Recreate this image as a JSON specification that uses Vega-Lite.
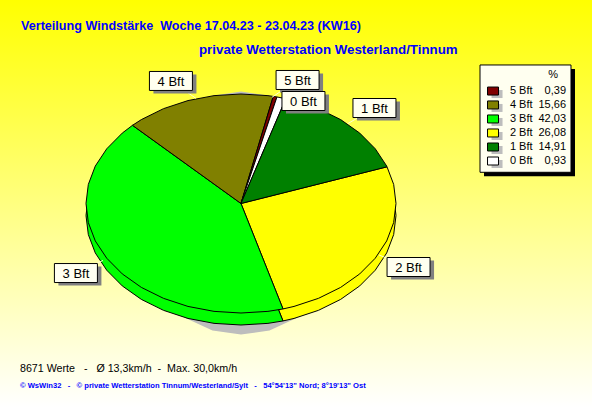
{"$schema":"https://vega.github.io/schema/vega-lite/v6.json","width":592,"height":407,"padding":0,"autosize":{"type":"fit","contains":"padding"},"background":"#ffffff","config":{"view":{"stroke":null}},
"datasets":{
"pie":[
{"s":"2 Bft","o":0,"u":0,"v":0},{"s":"2 Bft","o":1,"u":0.942,"v":0.335},{"s":"2 Bft","o":2,"u":0.985,"v":0.174},{"s":"2 Bft","o":3,"u":1,"v":0},{"s":"2 Bft","o":4,"u":0.985,"v":-0.174},{"s":"2 Bft","o":5,"u":0.94,"v":-0.342},{"s":"2 Bft","o":6,"u":0.866,"v":-0.5},{"s":"2 Bft","o":7,"u":0.766,"v":-0.643},{"s":"2 Bft","o":8,"u":0.643,"v":-0.766},{"s":"2 Bft","o":9,"u":0.5,"v":-0.866},{"s":"2 Bft","o":10,"u":0.342,"v":-0.94},{"s":"2 Bft","o":11,"u":0.271,"v":-0.963},{"s":"2 Bft","o":12,"u":0,"v":0},
{"s":"3 Bft","o":0,"u":0,"v":0},{"s":"3 Bft","o":1,"u":0.271,"v":-0.963},{"s":"3 Bft","o":2,"u":0.174,"v":-0.985},{"s":"3 Bft","o":3,"u":0,"v":-1},{"s":"3 Bft","o":4,"u":-0.174,"v":-0.985},{"s":"3 Bft","o":5,"u":-0.342,"v":-0.94},{"s":"3 Bft","o":6,"u":-0.5,"v":-0.866},{"s":"3 Bft","o":7,"u":-0.643,"v":-0.766},{"s":"3 Bft","o":8,"u":-0.766,"v":-0.643},{"s":"3 Bft","o":9,"u":-0.866,"v":-0.5},{"s":"3 Bft","o":10,"u":-0.94,"v":-0.342},{"s":"3 Bft","o":11,"u":-0.985,"v":-0.174},{"s":"3 Bft","o":12,"u":-1,"v":0},{"s":"3 Bft","o":13,"u":-0.985,"v":0.174},{"s":"3 Bft","o":14,"u":-0.94,"v":0.342},{"s":"3 Bft","o":15,"u":-0.866,"v":0.5},{"s":"3 Bft","o":16,"u":-0.766,"v":0.643},{"s":"3 Bft","o":17,"u":-0.7,"v":0.714},{"s":"3 Bft","o":18,"u":0,"v":0},
{"s":"4 Bft","o":0,"u":0,"v":0},{"s":"4 Bft","o":1,"u":-0.7,"v":0.714},{"s":"4 Bft","o":2,"u":-0.643,"v":0.766},{"s":"4 Bft","o":3,"u":-0.5,"v":0.866},{"s":"4 Bft","o":4,"u":-0.342,"v":0.94},{"s":"4 Bft","o":5,"u":-0.174,"v":0.985},{"s":"4 Bft","o":6,"u":0,"v":1},{"s":"4 Bft","o":7,"u":0.174,"v":0.985},{"s":"4 Bft","o":8,"u":0.208,"v":0.978},{"s":"4 Bft","o":9,"u":0,"v":0},
{"s":"5 Bft","o":0,"u":0,"v":0},{"s":"5 Bft","o":1,"u":0.208,"v":0.978},{"s":"5 Bft","o":2,"u":0.232,"v":0.973},{"s":"5 Bft","o":3,"u":0,"v":0},
{"s":"0 Bft","o":0,"u":0,"v":0},{"s":"0 Bft","o":1,"u":0.232,"v":0.973},{"s":"0 Bft","o":2,"u":0.289,"v":0.957},{"s":"0 Bft","o":3,"u":0,"v":0},
{"s":"1 Bft","o":0,"u":0,"v":0},{"s":"1 Bft","o":1,"u":0.289,"v":0.957},{"s":"1 Bft","o":2,"u":0.342,"v":0.94},{"s":"1 Bft","o":3,"u":0.5,"v":0.866},{"s":"1 Bft","o":4,"u":0.643,"v":0.766},{"s":"1 Bft","o":5,"u":0.766,"v":0.643},{"s":"1 Bft","o":6,"u":0.866,"v":0.5},{"s":"1 Bft","o":7,"u":0.94,"v":0.342},{"s":"1 Bft","o":8,"u":0.942,"v":0.335},{"s":"1 Bft","o":9,"u":0,"v":0}
],
"shade":[
{"o":0,"u":0.71,"v":-0.087},{"o":1,"u":0.686,"v":0.2},{"o":2,"u":0.615,"v":0.468},{"o":3,"u":0.502,"v":0.698},{"o":4,"u":0.355,"v":0.874},{"o":5,"u":0.184,"v":0.985},{"o":6,"u":0,"v":1.023},{"o":7,"u":-0.184,"v":0.985},{"o":8,"u":-0.355,"v":0.874},{"o":9,"u":-0.502,"v":0.698},{"o":10,"u":-0.615,"v":0.468},{"o":11,"u":-0.686,"v":0.2},{"o":12,"u":-0.71,"v":-0.087},{"o":13,"u":-0.686,"v":-0.374},{"o":14,"u":-0.615,"v":-0.642},{"o":15,"u":-0.502,"v":-0.872},{"o":16,"u":-0.355,"v":-1.048},{"o":17,"u":-0.184,"v":-1.159},{"o":18,"u":0,"v":-1.197},{"o":19,"u":0.184,"v":-1.159},{"o":20,"u":0.355,"v":-1.048},{"o":21,"u":0.502,"v":-0.872},{"o":22,"u":0.615,"v":-0.642},{"o":23,"u":0.686,"v":-0.374}
],
"labels":[
{"s":"4 Bft","u":-0.452,"v":1.119,"ru":-0.29,"rv":0.96},
{"s":"5 Bft","u":0.365,"v":1.128,"ru":0.2,"rv":0.97},
{"s":"0 Bft","u":0.403,"v":0.936,"ru":0.26,"rv":0.95},
{"s":"1 Bft","u":0.861,"v":0.872,"ru":0.69,"rv":0.73},
{"s":"2 Bft","u":1.081,"v":-0.58,"ru":0.89,"rv":-0.47},
{"s":"3 Bft","u":-1.065,"v":-0.635,"ru":-0.89,"rv":-0.52}
],
"legend":[
{"s":"5 Bft","pct":"0,39","v":1.027,"u":1.735,"su":1.626,"pu":2.097},
{"s":"4 Bft","pct":"15,66","v":0.9,"u":1.735,"su":1.626,"pu":2.097},
{"s":"3 Bft","pct":"42,03","v":0.772,"u":1.735,"su":1.626,"pu":2.097},
{"s":"2 Bft","pct":"26,08","v":0.644,"u":1.735,"su":1.626,"pu":2.097},
{"s":"1 Bft","pct":"14,91","v":0.516,"u":1.735,"su":1.626,"pu":2.097},
{"s":"0 Bft","pct":"0,93","v":0.388,"u":1.735,"su":1.626,"pu":2.097}
]
},
"encoding":{
"x":{"field":"u","type":"quantitative","axis":null,"scale":{"domain":[-1.5548,2.2645],"nice":false,"zero":false}},
"y":{"field":"v","type":"quantitative","axis":null,"scale":{"domain":[-1.8584,1.8584],"nice":false,"zero":false}}
},
"layer":[
{"data":{"values":[{"u":-1.5548,"u2":2.2645,"v":1.8584,"v2":-1.8584}]},"mark":{"type":"rect","color":{"gradient":"linear","x1":0,"y1":0,"x2":0,"y2":1,"stops":[{"offset":0,"color":"#ffff00"},{"offset":1,"color":"#ffffff"}]}},"encoding":{"x2":{"field":"u2"},"y2":{"field":"v2"}}},
{"data":{"name":"shade"},"mark":{"type":"line","fill":"#bdbdbd","stroke":"#bdbdbd","strokeWidth":0},"encoding":{"order":{"field":"o","type":"quantitative"}}},
{"data":{"name":"pie"},"mark":{"type":"line","stroke":"#000000","strokeWidth":1,"yOffset":12},"encoding":{"order":{"field":"o","type":"quantitative"},"detail":{"field":"s"},"fill":{"field":"s","type":"nominal","legend":null,"scale":{"domain":["5 Bft","4 Bft","3 Bft","2 Bft","1 Bft","0 Bft"],"range":["#800000","#808000","#00ff00","#ffff00","#008000","#ffffff"]}}}},
{"data":{"name":"pie"},"mark":{"type":"line","stroke":"#000000","strokeWidth":1},"encoding":{"order":{"field":"o","type":"quantitative"},"detail":{"field":"s"},"fill":{"field":"s","type":"nominal","legend":null,"scale":{"domain":["5 Bft","4 Bft","3 Bft","2 Bft","1 Bft","0 Bft"],"range":["#800000","#808000","#00ff00","#ffff00","#008000","#ffffff"]}}}},
{"data":{"name":"labels"},"mark":{"type":"rule","stroke":"#ffffd0","strokeWidth":1},"encoding":{"x2":{"field":"ru"},"y2":{"field":"rv"}}},
{"data":{"name":"labels"},"mark":{"type":"rect","width":43,"height":19,"fill":"#808080","xOffset":4,"yOffset":3},"encoding":{}},
{"data":{"name":"labels"},"mark":{"type":"rect","width":43,"height":19,"fill":"#fffff0","stroke":"#000000","strokeWidth":1},"encoding":{}},
{"data":{"name":"labels"},"mark":{"type":"text","font":"Liberation Sans","fontSize":13,"color":"#000000","align":"center","baseline":"middle","dy":1},"encoding":{"text":{"field":"s"}}},
{"data":{"values":[{"u":1.542,"u2":2.129,"v":1.265,"v2":0.285}]},"mark":{"type":"rect","fill":"#000000","xOffset":4,"x2Offset":4,"yOffset":4,"y2Offset":4},"encoding":{"x2":{"field":"u2"},"y2":{"field":"v2"}}},
{"data":{"values":[{"u":1.542,"u2":2.129,"v":1.265,"v2":0.285}]},"mark":{"type":"rect","fill":"#fffff0","stroke":"#000000","strokeWidth":1},"encoding":{"x2":{"field":"u2"},"y2":{"field":"v2"}}},
{"data":{"name":"legend"},"mark":{"type":"rect","width":11,"height":8,"fill":"#bdbdbd","xOffset":4,"yOffset":3},"encoding":{"x":{"field":"su","type":"quantitative","axis":null,"scale":{"domain":[-1.5548,2.2645],"nice":false,"zero":false}}}},
{"data":{"name":"legend"},"mark":{"type":"rect","width":11,"height":8,"stroke":"#000000","strokeWidth":1},"encoding":{"x":{"field":"su","type":"quantitative","axis":null,"scale":{"domain":[-1.5548,2.2645],"nice":false,"zero":false}},"fill":{"field":"s","type":"nominal","legend":null,"scale":{"domain":["5 Bft","4 Bft","3 Bft","2 Bft","1 Bft","0 Bft"],"range":["#800000","#808000","#00ff00","#ffff00","#008000","#ffffff"]}}}},
{"data":{"name":"legend"},"mark":{"type":"text","font":"Liberation Sans","fontSize":11,"color":"#000000","align":"left","baseline":"middle"},"encoding":{"text":{"field":"s"}}},
{"data":{"name":"legend"},"mark":{"type":"text","font":"Liberation Sans","fontSize":11,"color":"#000000","align":"right","baseline":"middle"},"encoding":{"x":{"field":"pu","type":"quantitative","axis":null,"scale":{"domain":[-1.5548,2.2645],"nice":false,"zero":false}},"text":{"field":"pct"}}},
{"data":{"values":[{"u":2.013,"v":1.174,"t":"%"}]},"mark":{"type":"text","font":"Liberation Sans","fontSize":11,"color":"#000000","align":"center","baseline":"middle"},"encoding":{"text":{"field":"t"}}},
{"data":{"values":[{"u":-1.419,"v":1.621,"t":"Verteilung Windstärke\u00a0\u00a0Woche 17.04.23 - 23.04.23 (KW16)"}]},"mark":{"type":"text","font":"Liberation Sans","fontSize":12.6,"fontWeight":"bold","color":"#0000ff","align":"left","baseline":"middle"},"encoding":{"text":{"field":"t"}}},
{"data":{"values":[{"u":-0.271,"v":1.406,"t":"private Wetterstation Westerland/Tinnum"}]},"mark":{"type":"text","font":"Liberation Sans","fontSize":13.3,"fontWeight":"bold","color":"#0000ff","align":"left","baseline":"middle"},"encoding":{"text":{"field":"t"}}},
{"data":{"values":[{"u":-1.426,"v":-1.511,"t":"8671 Werte\u00a0\u00a0\u00a0-\u00a0\u00a0\u00a0Ø 13,3km/h\u00a0\u00a0-\u00a0\u00a0Max. 30,0km/h"}]},"mark":{"type":"text","font":"Liberation Sans","fontSize":10.7,"color":"#000000","align":"left","baseline":"middle"},"encoding":{"text":{"field":"t"}}},
{"data":{"values":[{"u":-1.426,"v":-1.667,"t":"© WsWin32\u00a0\u00a0\u00a0-\u00a0\u00a0\u00a0© private Wetterstation Tinnum/Westerland/Sylt\u00a0\u00a0\u00a0-\u00a0\u00a0\u00a054°54'13\" Nord; 8°19'13\" Ost"}]},"mark":{"type":"text","font":"Liberation Sans","fontSize":7.6,"fontWeight":"bold","color":"#0000ff","align":"left","baseline":"middle"},"encoding":{"text":{"field":"t"}}}
]}
